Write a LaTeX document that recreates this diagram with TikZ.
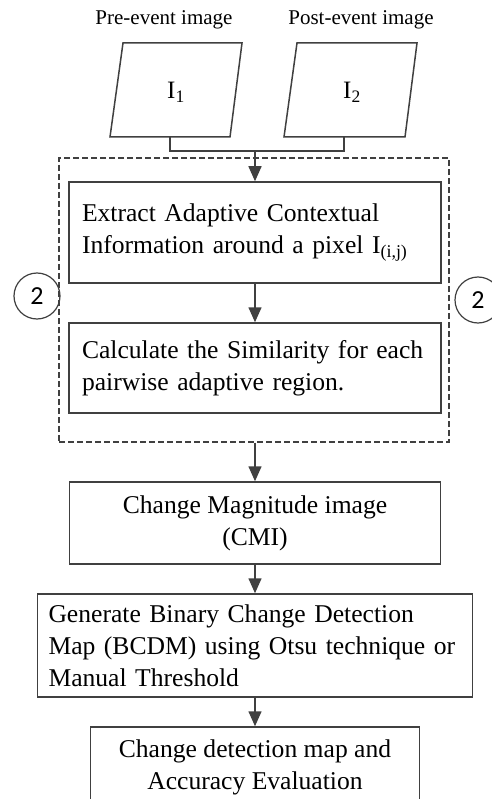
\documentclass[tikz,border=0pt]{standalone}
\usepackage{fontspec}
\setmainfont{Liberation Serif}
\newfontfamily\circfont{Carlito}
\usetikzlibrary{arrows.meta}
\definecolor{ln}{HTML}{404040}
\hfuzz=100pt
\begin{document}
\begin{tikzpicture}[x=1pt,y=-1pt,
  box/.style={draw=ln,line width=1.5pt,inner ysep=0pt,font=\fontsize{25.6}{32}\selectfont},
  lbox/.style={box,align=left},
  cbox/.style={box,align=center},
  arr/.style={draw=ln,line width=1.5pt,-{Triangle[width=13pt,length=15pt]}},
  conn/.style={draw=ln,line width=1.5pt},
  lab/.style={font=\fontsize{21}{25}\selectfont,inner sep=0pt},
  imgtxt/.style={font=\fontsize{25}{29}\selectfont,inner sep=0pt},
  para/.style={draw=ln,line width=1.5pt},
  circ/.style={circle,draw=ln,line width=1.2pt,minimum size=46pt,inner sep=0pt,font=\circfont\fontsize{26}{30}\selectfont},
  grpbox/.style={draw=ln,line width=1.2pt,dash pattern=on 6pt off 3pt,inner sep=0pt},
]
\useasboundingbox (0,0) rectangle (491,799);

% labels
\node[lab] (l1) at (164,20) {Pre-event image};
\node[lab] (l2) at (361,20) {Post-event image};

% parallelograms
\draw[para] (123,43) -- (242,43) -- (230,137) -- (110,137) -- cycle;
\draw[para] (297,43) -- (417,43) -- (405,137) -- (284,137) -- cycle;
\node[imgtxt] (p1) at (176,92) {I\textsubscript{1}};
\node[imgtxt] (p2) at (352,92) {I\textsubscript{2}};
\coordinate (p1b) at (170,137);
\coordinate (p2b) at (344,137);
\coordinate (j) at (255,151);

% dashed group
\node[grpbox,minimum width=390pt,minimum height=284pt] (grp) at (254,300) {};

% boxes
\node[lbox,minimum width=372pt,minimum height=101pt,text width=346pt,inner xsep=13pt] (b1) at (255,232.5)
  {\mbox{Extract Adaptive Contextual}\\\mbox{Information around a pixel I\textsubscript{(i,j)}}};
\node[lbox,minimum width=372pt,minimum height=90pt,text width=346pt,inner xsep=13pt] (b2) at (255,368)
  {\mbox{Calculate the Similarity for each}\\\mbox{pairwise adaptive region.}};
\node[cbox,minimum width=371pt,minimum height=82pt] (cmi) at (255,523)
  {Change Magnitude image\\(CMI)};
\node[lbox,minimum width=435pt,minimum height=103pt,text width=413pt,inner xsep=11pt] (bcdm) at (255,645.5)
  {\mbox{Generate Binary Change Detection}\\\mbox{Map (BCDM) using Otsu technique or}\\\mbox{Manual Threshold}};
\node[cbox,minimum width=329pt,minimum height=80pt] (fin) at (255,767)
  {Change detection map and\\Accuracy Evaluation};

% circles
\node[circ] (c1) at (37,296) {2};
\node[circ] (c2) at (478,300) {2};

% connectors
\draw[conn] (p1b) |- (j);
\draw[conn] (p2b) |- (j);
\draw[arr] (j) -- (b1.north);
\draw[arr] (b1.south) -- (b2.north);
\draw[arr] (grp.south -| cmi.north) -- (cmi.north);
\draw[arr] (cmi.south) -- (bcdm.north);
\draw[arr] (bcdm.south) -- (fin.north);
\end{tikzpicture}
\end{document}
